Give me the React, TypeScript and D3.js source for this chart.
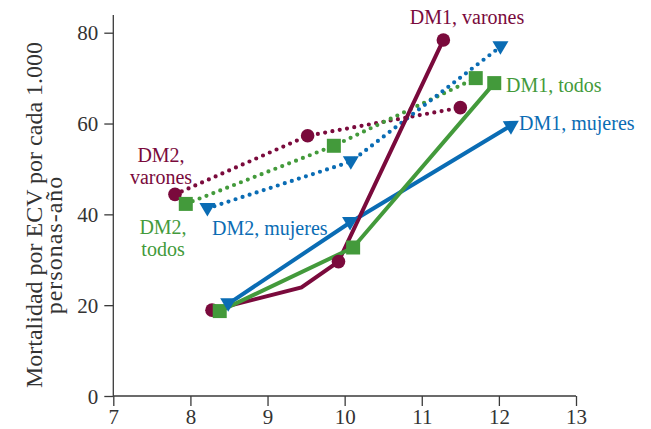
import * as d3 from "d3";
import React, { useRef, useEffect } from "react";

// HbA1c (%) on x, mortality per 1000 person-years on y
const dm1Varones = [
  [8.28, 18.9],
  [9.44, 23.9],
  [9.92, 29.6],
  [11.28, 78.4],
];
const dm1VaronesMarked = [0, 2, 3];
const dm1Todos = [
  [8.38, 18.7],
  [10.11, 32.7],
  [11.94, 68.9],
];
const dm1Mujeres = [
  [8.49, 20.3],
  [10.07, 38.2],
  [12.17, 59.7],
];
const dm2Varones = [
  [7.8, 44.4],
  [9.52, 57.3],
  [11.5, 63.5],
];
const dm2Todos = [
  [7.94, 42.3],
  [9.86, 55.1],
  [11.7, 70.0],
];
const dm2Mujeres = [
  [8.22, 41.3],
  [10.08, 51.6],
  [12.02, 76.9],
];
const xTicks = [7, 8, 9, 10, 11, 12, 13];
const yTicks = [0, 20, 40, 60, 80];

const MAROON = "#7a0a3c";
const GREEN = "#439a3b";
const BLUE = "#0a6cb4";
const FONT = "'Liberation Serif', 'DejaVu Serif', serif";

function Chart() {
  const ref = useRef(null);

  useEffect(() => {
    const svg = d3.select(ref.current);
    svg.selectAll("*").remove();

    const x = d3.scaleLinear().domain([7, 13]).range([113.3, 576]);
    const y = d3.scaleLinear().domain([0, 80]).range([396, 32.7]);
    const line = d3
      .line()
      .x((d) => x(d[0]))
      .y((d) => y(d[1]));

    // axes
    const axisColor = "#3a3a3a";
    const gx = svg
      .append("g")
      .attr("transform", "translate(0,396)")
      .call(
        d3
          .axisBottom(x)
          .tickValues(xTicks)
          .tickFormat(d3.format("d"))
          .tickSize(10)
          .tickPadding(3)
      );
    const gy = svg
      .append("g")
      .attr("transform", "translate(113.3,0)")
      .call(
        d3
          .axisLeft(y)
          .tickValues(yTicks)
          .tickFormat(d3.format("d"))
          .tickSize(9)
          .tickPadding(6)
      );
    [gx, gy].forEach((g) => {
      g.select(".domain").remove();
      g.selectAll("line").attr("stroke", axisColor).attr("stroke-width", 1.3);
      g.selectAll("text")
        .attr("fill", "#333")
        .style("font-family", FONT)
        .style("font-size", "21px");
    });
    gy.selectAll("text").attr("dy", "0.34em");
    gx.selectAll("text").attr("dy", "0.72em");
    svg
      .append("line")
      .attr("x1", 113.3)
      .attr("x2", 113.3)
      .attr("y1", 15)
      .attr("y2", 396)
      .attr("stroke", axisColor)
      .attr("stroke-width", 1.3);
    svg
      .append("line")
      .attr("x1", 113.3)
      .attr("x2", 576)
      .attr("y1", 396)
      .attr("y2", 396)
      .attr("stroke", axisColor)
      .attr("stroke-width", 1.3);

    // y title, two lines
    const title = svg
      .append("g")
      .style("font-family", FONT)
      .style("font-size", "24px")
      .attr("fill", "#333");
    title
      .append("text")
      .attr("transform", "translate(42,215) rotate(-90)")
      .attr("text-anchor", "middle")
      .text("Mortalidad por ECV por cada 1.000");
    title
      .append("text")
      .attr("transform", "translate(62,245) rotate(-90)")
      .attr("text-anchor", "middle")
      .style("letter-spacing", "1px")
      .text("personas-año");

    // dotted DM2 lines
    const dotted = [
      [dm2Varones, MAROON],
      [dm2Todos, GREEN],
      [dm2Mujeres, BLUE],
    ];
    dotted.forEach(([data, color]) => {
      svg
        .append("path")
        .attr("d", line(data))
        .attr("fill", "none")
        .attr("stroke", color)
        .attr("stroke-width", 4.2)
        .attr("stroke-linecap", "round")
        .attr("stroke-dasharray", "0 7.4");
    });

    // solid DM1 lines
    const solid = [
      [dm1Mujeres, BLUE],
      [dm1Varones, MAROON],
      [dm1Todos, GREEN],
    ];
    solid.forEach(([data, color]) => {
      svg
        .append("path")
        .attr("d", line(data))
        .attr("fill", "none")
        .attr("stroke", color)
        .attr("stroke-width", 4)
        .attr("stroke-linejoin", "miter");
    });

    // markers
    const circles = (data, color) =>
      svg
        .append("g")
        .selectAll("circle")
        .data(data)
        .enter()
        .append("circle")
        .attr("cx", (d) => x(d[0]))
        .attr("cy", (d) => y(d[1]))
        .attr("r", 6.8)
        .attr("fill", color);
    const squares = (data, color) =>
      svg
        .append("g")
        .selectAll("rect")
        .data(data)
        .enter()
        .append("rect")
        .attr("x", (d) => x(d[0]) - 7)
        .attr("y", (d) => y(d[1]) - 7)
        .attr("width", 14)
        .attr("height", 14)
        .attr("fill", color);
    const tri = "M-8,-5.5L8,-5.5L0,8Z";
    const triangles = (data, color) =>
      svg
        .append("g")
        .selectAll("path")
        .data(data)
        .enter()
        .append("path")
        .attr("d", tri)
        .attr("transform", (d) => `translate(${x(d[0])},${y(d[1])})`)
        .attr("fill", color);

    circles(dm2Varones, MAROON);
    squares(dm2Todos, GREEN);
    triangles(dm2Mujeres, BLUE);
    circles(
      dm1Varones.filter((d, i) => dm1VaronesMarked.includes(i)),
      MAROON
    );
    squares(dm1Todos, GREEN);
    triangles(dm1Mujeres.slice(0, 2), BLUE);

    // arrow head at the end of DM1 mujeres
    const a = dm1Mujeres[dm1Mujeres.length - 2];
    const b = dm1Mujeres[dm1Mujeres.length - 1];
    const ang =
      (Math.atan2(y(b[1]) - y(a[1]), x(b[0]) - x(a[0])) * 180) / Math.PI;
    svg
      .append("path")
      .attr("d", "M8,0L-6,-8L-6,8Z")
      .attr("transform", `translate(${x(b[0])},${y(b[1])}) rotate(${ang})`)
      .attr("fill", BLUE);

    // series labels
    const labels = [
      { lines: ["DM1, varones"], x: 467, y: 24, color: MAROON, anchor: "middle" },
      { lines: ["DM1, todos"], x: 506, y: 92, color: GREEN, anchor: "start" },
      { lines: ["DM1, mujeres"], x: 519, y: 130, color: BLUE, anchor: "start" },
      { lines: ["DM2,", "varones"], x: 161, y: 162, color: MAROON, anchor: "middle" },
      { lines: ["DM2,", "todos"], x: 163, y: 234, color: GREEN, anchor: "middle" },
      { lines: ["DM2, mujeres"], x: 212, y: 235, color: BLUE, anchor: "start" },
    ];
    labels.forEach((l) => {
      const t = svg
        .append("text")
        .attr("x", l.x)
        .attr("y", l.y)
        .attr("fill", l.color)
        .attr("text-anchor", l.anchor)
        .style("font-family", FONT)
        .style("font-size", "20px");
      l.lines.forEach((s, i) => {
        t.append("tspan")
          .attr("x", l.x)
          .attr("dy", i === 0 ? 0 : 22)
          .text(s);
      });
    });
  }, []);

  return <svg ref={ref} width={651} height={429}></svg>;
}

export default function App() {
  return (
    <div style={{ position: "absolute", left: 0, top: 0, background: "#fff" }}>
      <Chart />
    </div>
  );
}
